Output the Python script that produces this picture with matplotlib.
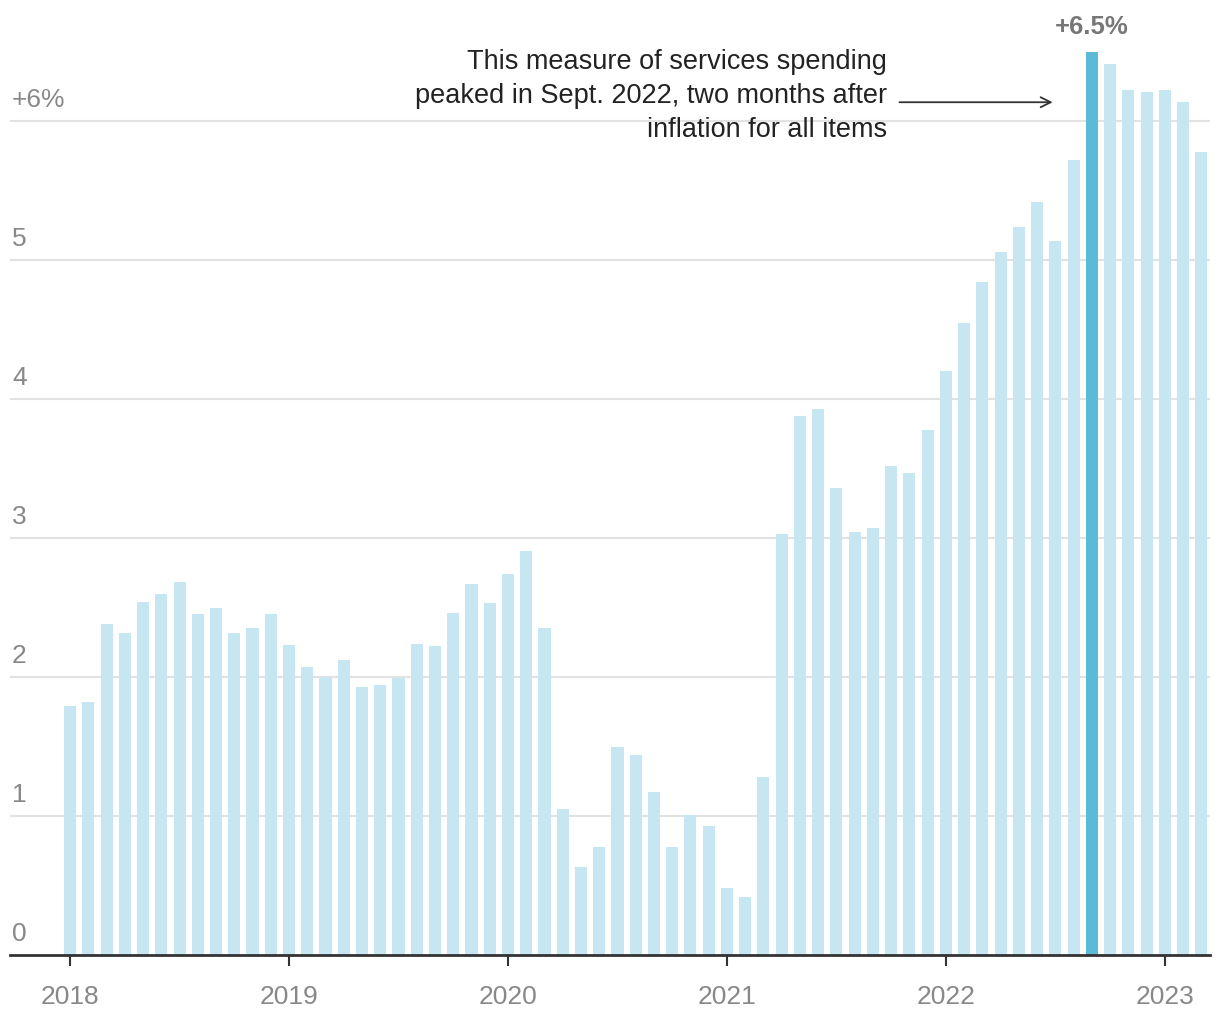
import numpy as np
import matplotlib
matplotlib.use('Agg')
import matplotlib.pyplot as plt

# year-over-year change, Jan 2018 .. Mar 2023 (monthly)
vals_2018 = [1.79, 1.82, 2.38, 2.32, 2.54, 2.60, 2.68, 2.45, 2.50, 2.32, 2.35, 2.45]
vals_2019 = [2.23, 2.07, 2.00, 2.12, 1.93, 1.94, 1.99, 2.24, 2.22, 2.46, 2.67, 2.53]
vals_2020 = [2.74, 2.91, 2.35, 1.05, 0.63, 0.78, 1.50, 1.44, 1.17, 0.78, 1.01, 0.93]
vals_2021 = [0.48, 0.42, 1.28, 3.03, 3.88, 3.93, 3.36, 3.04, 3.07, 3.52, 3.47, 3.78]
vals_2022 = [4.20, 4.55, 4.84, 5.06, 5.24, 5.42, 5.14, 5.72, 6.50, 6.41, 6.22, 6.21]
vals_2023 = [6.22, 6.14, 5.78]
values = vals_2018 + vals_2019 + vals_2020 + vals_2021 + vals_2022 + vals_2023

years = ['2018', '2019', '2020', '2021', '2022', '2023']
y_ticks = [0, 1, 2, 3, 4, 5, 6]
y_labels = ['0', '1', '2', '3', '4', '5', '+6%']
peak_idx = 56  # Sept. 2022
note_lines = ['This measure of services spending',
              'peaked in Sept. 2022, two months after',
              'inflation for all items']

light = '#c6e7f1'
dark = '#5bbad8'
gray = '#888888'
plt.rcParams['font.family'] = ['Liberation Sans', 'DejaVu Sans']

fig = plt.figure(figsize=(12.2, 10.2), dpi=100)
ax = fig.add_axes([10 / 1220, 64 / 1020, 1200 / 1220, 956 / 1020])

x = np.arange(len(values))
colors = [dark if i == peak_idx else light for i in x]
ax.bar(x, values, width=0.66, color=colors, zorder=2)

ax.set_xlim(-3.29, 62.47)
ax.set_ylim(0, 956 / 139)
for t in y_ticks[1:]:
    ax.axhline(t, color='#e2e2e2', lw=1.5, zorder=1)
for t, lab in zip(y_ticks, y_labels):
    ax.text(-3.18, t + 0.07, lab, fontsize=19, color=gray, va='bottom', ha='left')

for s in ['top', 'right', 'left']:
    ax.spines[s].set_visible(False)
ax.spines['bottom'].set_color('#333333')
ax.spines['bottom'].set_linewidth(2)
ax.set_yticks([])
ax.set_xticks(np.arange(0, 61, 12))
ax.set_xticklabels(years, fontsize=19, color=gray)
ax.tick_params(axis='x', length=8, width=1.5, color='#333333', pad=13)

ax.text(peak_idx, values[peak_idx] + 0.1, '+6.5%', fontsize=18.5, fontweight='bold',
        color='#777777', ha='center', va='bottom')

# annotation, one line at a time (34 px apart)
for k, line in enumerate(note_lines):
    ax.text(44.77, (956 - 62 - 34 * k) / 139, line, fontsize=19.5, color='#222222',
            ha='right', va='center')
ax.annotate('', xy=(54.0, 6.135), xytext=(45.3, 6.135),
            arrowprops=dict(arrowstyle='->', color='#333333', lw=1.3, mutation_scale=18))

fig.savefig('out.png', dpi=100)
